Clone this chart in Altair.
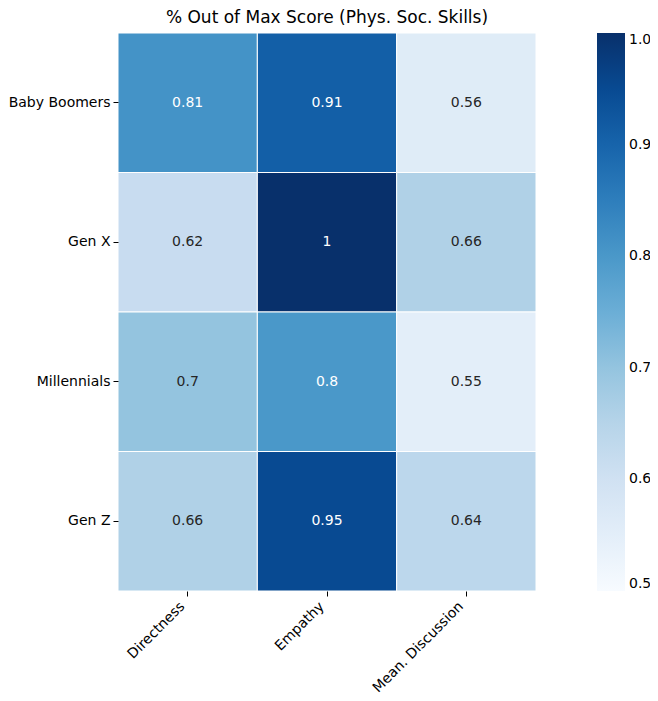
import altair as alt
import pandas as pd

generations = ["Baby Boomers", "Gen X", "Millennials", "Gen Z"]
skills = ["Directness", "Empathy", "Mean. Discussion"]
directness = [0.81, 0.62, 0.70, 0.66]
empathy = [0.91, 1.00, 0.80, 0.95]
discussion = [0.56, 0.66, 0.55, 0.64]

rows = []
for g, a, b, c in zip(generations, directness, empathy, discussion):
    for s, v in zip(skills, [a, b, c]):
        rows.append({"gen": g, "skill": s, "value": v})
df = pd.DataFrame(rows)

blues = ["#f7fbff", "#deebf7", "#c6dbef", "#9ecae1", "#6baed6",
         "#4292c6", "#2171b5", "#08519c", "#08306b"]
dom = [0.5 + i * 0.0625 for i in range(9)]

font = "DejaVu Sans"

base = alt.Chart(df).encode(
    x=alt.X("skill:N", sort=skills, title=None,
            axis=alt.Axis(labelAngle=-45, labelAlign="right", labelBaseline="top",
                          labelFontSize=14, labelFont=font, labelColor="black",
                          domain=False, ticks=True, tickColor="black", tickSize=5,
                          labelPadding=3, labelOffset=-10)),
    y=alt.Y("gen:N", sort=generations, title=None,
            axis=alt.Axis(labelFontSize=14, labelFont=font, labelColor="black",
                          domain=False, ticks=True, tickColor="black", tickSize=5,
                          labelPadding=3)),
)

rect = base.mark_rect(stroke="white", strokeWidth=1).encode(
    color=alt.Color("value:Q",
                    scale=alt.Scale(domain=dom, range=blues, interpolate="rgb", clamp=True),
                    legend=alt.Legend(title=None, orient="right", offset=61,
                                      gradientLength=558, gradientThickness=28,
                                      values=[0.5, 0.6, 0.7, 0.8, 0.9, 1.0],
                                      format=".1f", labelFontSize=14, labelFont=font,
                                      labelColor="black", gradientStrokeWidth=0,
                                      labelOffset=4))
)

text = base.mark_text(fontSize=14, font=font).encode(
    text=alt.Text("value:Q", format="~g"),
    color=alt.condition(alt.datum.value > 0.75, alt.value("white"), alt.value("#262626")),
)

chart = (rect + text).properties(
    width=418, height=558,
    title=alt.TitleParams("% Out of Max Score (Phys. Soc. Skills)", fontSize=17,
                          font=font, fontWeight="normal", color="black", offset=6),
    padding={"left": 110, "top": 25, "right": 114, "bottom": 108},
    autosize=alt.AutoSizeParams(type="none"),
).configure_view(stroke=None).configure_axis(grid=False)

chart.save("out.html", embed_options={"renderer": "svg", "actions": False})
